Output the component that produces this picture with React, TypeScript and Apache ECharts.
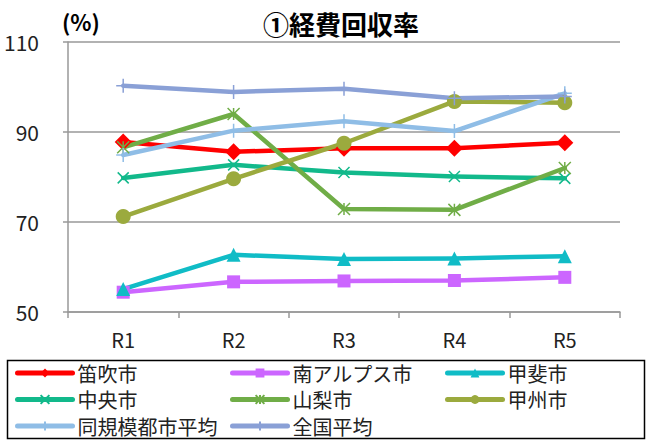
import React, { useEffect, useRef } from "react";
import * as echarts from "echarts";

const categories = ["R1", "R2", "R3", "R4", "R5"];
const fuefuki = [87.8, 85.6, 86.4, 86.4, 87.6];
const minamiAlps = [54.4, 56.7, 56.9, 57.0, 57.7];
const kai = [55.1, 62.7, 61.8, 61.9, 62.4];
const chuo = [79.8, 82.7, 81.0, 80.1, 79.7];
const yamanashi = [86.6, 94.0, 72.9, 72.7, 82.0];
const koshu = [71.2, 79.6, 87.5, 96.8, 96.5];
const sameScale = [84.9, 90.3, 92.4, 90.2, 98.6];
const national = [100.3, 98.9, 99.6, 97.5, 97.9];

const yTicks = { min: 50, max: 110, interval: 20 };

const FONT = "'Noto Sans CJK JP', 'Noto Sans', sans-serif";
const X_PATH = "path://M0,0L10,10M10,0L0,10";
const PLUS_PATH = "path://M5,0L5,10M0,5L10,5";
const STAR_PATH = "path://M0,0L10,10M10,0L0,10M5,0L5,10";

function mk(name: string, data: number[], color: string, symbol: string, size: number, stroke = false) {
  return {
    name,
    type: "line",
    data,
    symbol,
    symbolSize: size,
    lineStyle: { width: 4.5, color, cap: "round", join: "round" },
    itemStyle: stroke
      ? { color: "none", borderColor: color, borderWidth: 1.5 }
      : { color },
    color,
  };
}

export default function App() {
  const ref = useRef<HTMLDivElement>(null);
  useEffect(() => {
    if (!ref.current) return;
    const chart = echarts.init(ref.current, null, { renderer: "svg" });
    const legendCommon = {
      orient: "vertical",
      itemWidth: 55,
      itemHeight: 11,
      itemGap: 6.5,
      lineStyle: { width: 5, cap: "round" },
      textStyle: { fontFamily: FONT, fontSize: 20, lineHeight: 20, color: "#222" },
      padding: 0,
    };
    chart.setOption({
      animation: false,
      backgroundColor: "#fff",
      textStyle: { fontFamily: FONT },
      title: {
        text: "①経費回収率",
        left: 336,
        top: 5,
        textAlign: "center",
        textStyle: { fontFamily: FONT, fontSize: 26, fontWeight: "bold", color: "#000" },
      },
      graphic: [
        {
          type: "text",
          left: 62,
          top: 10,
          style: { text: "(%)", fontFamily: FONT, fontSize: 22, fontWeight: "bold", fill: "#000" },
        },
        {
          type: "rect",
          shape: { x: 7.5, y: 360.5, width: 637, height: 78 },
          style: { fill: "none", stroke: "#000", lineWidth: 1.5 },
          z: 10,
        },
      ],
      grid: { left: 68, right: 27, top: 42, bottom: 129 },
      xAxis: {
        type: "category",
        data: categories,
        boundaryGap: true,
        axisLine: { lineStyle: { color: "#999", width: 1.5 } },
        axisTick: { show: true, length: 6, lineStyle: { color: "#999", width: 1.5 } },
        axisLabel: { fontFamily: FONT, fontSize: 20, color: "#222", margin: 17 },
      },
      yAxis: {
        type: "value",
        min: yTicks.min,
        max: yTicks.max,
        interval: yTicks.interval,
        axisLine: { show: true, lineStyle: { color: "#999", width: 1.5 } },
        axisTick: { show: true, length: 5, lineStyle: { color: "#999", width: 1.5 } },
        axisLabel: { fontFamily: FONT, fontSize: 21, color: "#222", margin: 29 },
        splitLine: { lineStyle: { color: "#999", width: 1.5 } },
      },
      legend: [
        { ...legendCommon, left: 15, top: 363, data: ["笛吹市", "中央市", "同規模都市平均"] },
        { ...legendCommon, left: 230, top: 363, data: ["南アルプス市", "山梨市", "全国平均"] },
        { ...legendCommon, left: 445, top: 363, data: ["甲斐市", "甲州市"] },
      ],
      series: [
        mk("笛吹市", fuefuki, "#FF0000", "diamond", 17),
        mk("南アルプス市", minamiAlps, "#CC66FF", "rect", 13),
        mk("甲斐市", kai, "#10BCC6", "triangle", 14),
        mk("中央市", chuo, "#12B98B", X_PATH, 11, true),
        mk("山梨市", yamanashi, "#70AD47", STAR_PATH, 12, true),
        mk("甲州市", koshu, "#9BAA3E", "circle", 15),
        mk("同規模都市平均", sameScale, "#8FBDE6", PLUS_PATH, 14, true),
        mk("全国平均", national, "#8AA0D6", PLUS_PATH, 14, true),
      ],
    });
    return () => chart.dispose();
  }, []);
  return <div ref={ref} style={{ width: 647, height: 441, position: "absolute", left: 0, top: 0 }} />;
}
